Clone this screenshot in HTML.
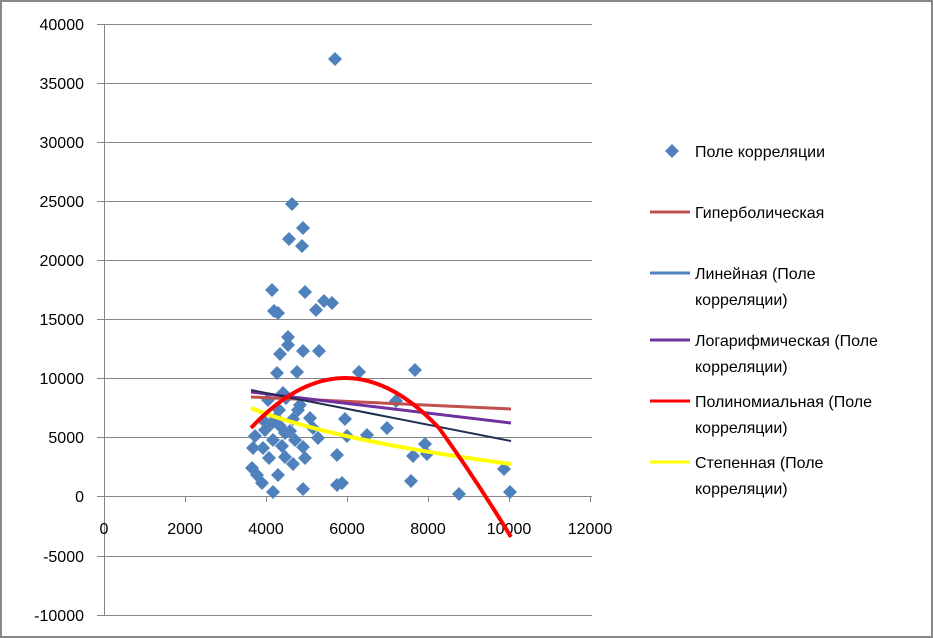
<!DOCTYPE html>
<html><head><meta charset="utf-8"><style>
body{margin:0;background:#fff}
svg{display:block;font-family:"Liberation Sans","DejaVu Sans",sans-serif}
</style></head><body>
<svg width="933" height="638" viewBox="0 0 933 638" xmlns="http://www.w3.org/2000/svg">
<rect x="1" y="1" width="931" height="636" fill="#fff" stroke="#888" stroke-width="2"/>
<g stroke="#868686" stroke-width="1">
<line x1="97" y1="24.5" x2="592" y2="24.5"/>
<line x1="97" y1="83.5" x2="592" y2="83.5"/>
<line x1="97" y1="142.5" x2="592" y2="142.5"/>
<line x1="97" y1="201.5" x2="592" y2="201.5"/>
<line x1="97" y1="260.5" x2="592" y2="260.5"/>
<line x1="97" y1="319.5" x2="592" y2="319.5"/>
<line x1="97" y1="378.5" x2="592" y2="378.5"/>
<line x1="97" y1="437.5" x2="592" y2="437.5"/>
<line x1="97" y1="496.5" x2="592" y2="496.5"/>
<line x1="97" y1="556.5" x2="592" y2="556.5"/>
<line x1="97" y1="615.5" x2="592" y2="615.5"/>
<line x1="104.5" y1="24" x2="104.5" y2="615"/>
<line x1="185.5" y1="496" x2="185.5" y2="502"/>
<line x1="266.5" y1="496" x2="266.5" y2="502"/>
<line x1="347.5" y1="496" x2="347.5" y2="502"/>
<line x1="428.5" y1="496" x2="428.5" y2="502"/>
<line x1="509.5" y1="496" x2="509.5" y2="502"/>
<line x1="590.5" y1="496" x2="590.5" y2="502"/>
</g>
<g font-size="16" fill="#000" text-anchor="end">
<text x="84" y="30">40000</text><text x="84" y="89">35000</text><text x="84" y="148">30000</text>
<text x="84" y="207">25000</text><text x="84" y="266">20000</text><text x="84" y="325">15000</text>
<text x="84" y="384">10000</text><text x="84" y="443">5000</text><text x="84" y="502">0</text>
<text x="84" y="562">-5000</text><text x="84" y="621">-10000</text>
</g>
<g font-size="16" fill="#000" text-anchor="middle">
<text x="104" y="534">0</text><text x="185" y="534">2000</text><text x="266" y="534">4000</text>
<text x="347" y="534">6000</text><text x="428" y="534">8000</text><text x="509" y="534">10000</text><text x="590" y="534">12000</text>
</g>
<defs><path id="d" d="M0,-7 L7,0 L0,7 L-7,0Z" fill="#4F81BD"/></defs>
<g>
<use href="#d" x="335" y="59"/><use href="#d" x="292" y="204"/><use href="#d" x="303" y="228"/><use href="#d" x="289" y="239"/><use href="#d" x="302" y="246"/>
<use href="#d" x="272" y="290"/><use href="#d" x="305" y="292"/><use href="#d" x="324" y="301"/><use href="#d" x="332" y="303"/><use href="#d" x="316" y="310"/>
<use href="#d" x="274" y="311"/><use href="#d" x="278" y="313"/><use href="#d" x="288" y="337"/><use href="#d" x="288" y="345"/><use href="#d" x="280" y="354"/>
<use href="#d" x="303" y="351"/><use href="#d" x="319" y="351"/><use href="#d" x="277" y="373"/><use href="#d" x="297" y="372"/><use href="#d" x="359" y="372"/>
<use href="#d" x="415" y="370"/><use href="#d" x="396" y="401"/><use href="#d" x="283" y="393"/><use href="#d" x="279" y="410"/><use href="#d" x="298" y="410"/>
<use href="#d" x="293" y="419"/><use href="#d" x="310" y="418"/><use href="#d" x="345" y="419"/><use href="#d" x="272" y="423"/><use href="#d" x="285" y="433"/>
<use href="#d" x="290" y="431"/><use href="#d" x="313" y="428"/><use href="#d" x="255" y="436"/><use href="#d" x="347" y="436"/><use href="#d" x="367" y="435"/>
<use href="#d" x="387" y="428"/><use href="#d" x="273" y="440"/><use href="#d" x="253" y="448"/><use href="#d" x="263" y="448"/><use href="#d" x="303" y="447"/>
<use href="#d" x="269" y="458"/><use href="#d" x="285" y="457"/><use href="#d" x="293" y="464"/><use href="#d" x="305" y="458"/><use href="#d" x="337" y="455"/>
<use href="#d" x="252" y="468"/><use href="#d" x="257" y="475"/><use href="#d" x="278" y="475"/><use href="#d" x="262" y="483"/><use href="#d" x="273" y="492"/>
<use href="#d" x="303" y="489"/><use href="#d" x="337" y="485"/><use href="#d" x="342" y="483"/><use href="#d" x="425" y="444"/><use href="#d" x="413" y="456"/>
<use href="#d" x="427" y="454"/><use href="#d" x="411" y="481"/><use href="#d" x="459" y="494"/><use href="#d" x="504" y="469"/><use href="#d" x="510" y="492"/>
<use href="#d" x="268" y="400"/><use href="#d" x="286" y="398"/><use href="#d" x="300" y="405"/><use href="#d" x="263" y="420"/><use href="#d" x="280" y="426"/>
<use href="#d" x="295" y="440"/><use href="#d" x="318" y="438"/><use href="#d" x="265" y="430"/><use href="#d" x="282" y="446"/><use href="#d" x="276" y="418"/>
</g>
<g fill="none" stroke-width="3">
<line x1="251" y1="397" x2="511" y2="409" stroke="#C0504D"/>
<line x1="251" y1="392" x2="511" y2="423" stroke="#7030A0"/>
<line x1="251" y1="390" x2="511" y2="441" stroke="#1F2F4F" stroke-width="2"/>
<path d="M251,408 Q330,440 511,464" stroke="#FFFF00" stroke-width="4"/>
<path d="M251,428 Q345,328 439,428 Q475,478 511,537" stroke="#FF0000" stroke-width="4"/>
</g>
<g font-size="16" fill="#000">
<path d="M672,144 L679,151 L672,158 L665,151Z" fill="#4F81BD"/>
<text x="695" y="157">Поле корреляции</text>
<line x1="650" y1="212" x2="690" y2="212" stroke="#C0504D" stroke-width="3"/>
<text x="695" y="218">Гиперболическая</text>
<line x1="650" y1="273" x2="690" y2="273" stroke="#4F81BD" stroke-width="3"/>
<text x="695" y="279">Линейная (Поле</text><text x="695" y="305">корреляции)</text>
<line x1="650" y1="340" x2="690" y2="340" stroke="#7030A0" stroke-width="3"/>
<text x="695" y="346">Логарифмическая (Поле</text><text x="695" y="372">корреляции)</text>
<line x1="650" y1="401" x2="690" y2="401" stroke="#FF0000" stroke-width="3"/>
<text x="695" y="407">Полиномиальная (Поле</text><text x="695" y="433">корреляции)</text>
<line x1="650" y1="462" x2="690" y2="462" stroke="#FFFF00" stroke-width="3"/>
<text x="695" y="468">Степенная (Поле</text><text x="695" y="494">корреляции)</text>
</g>
</svg>
</body></html>
